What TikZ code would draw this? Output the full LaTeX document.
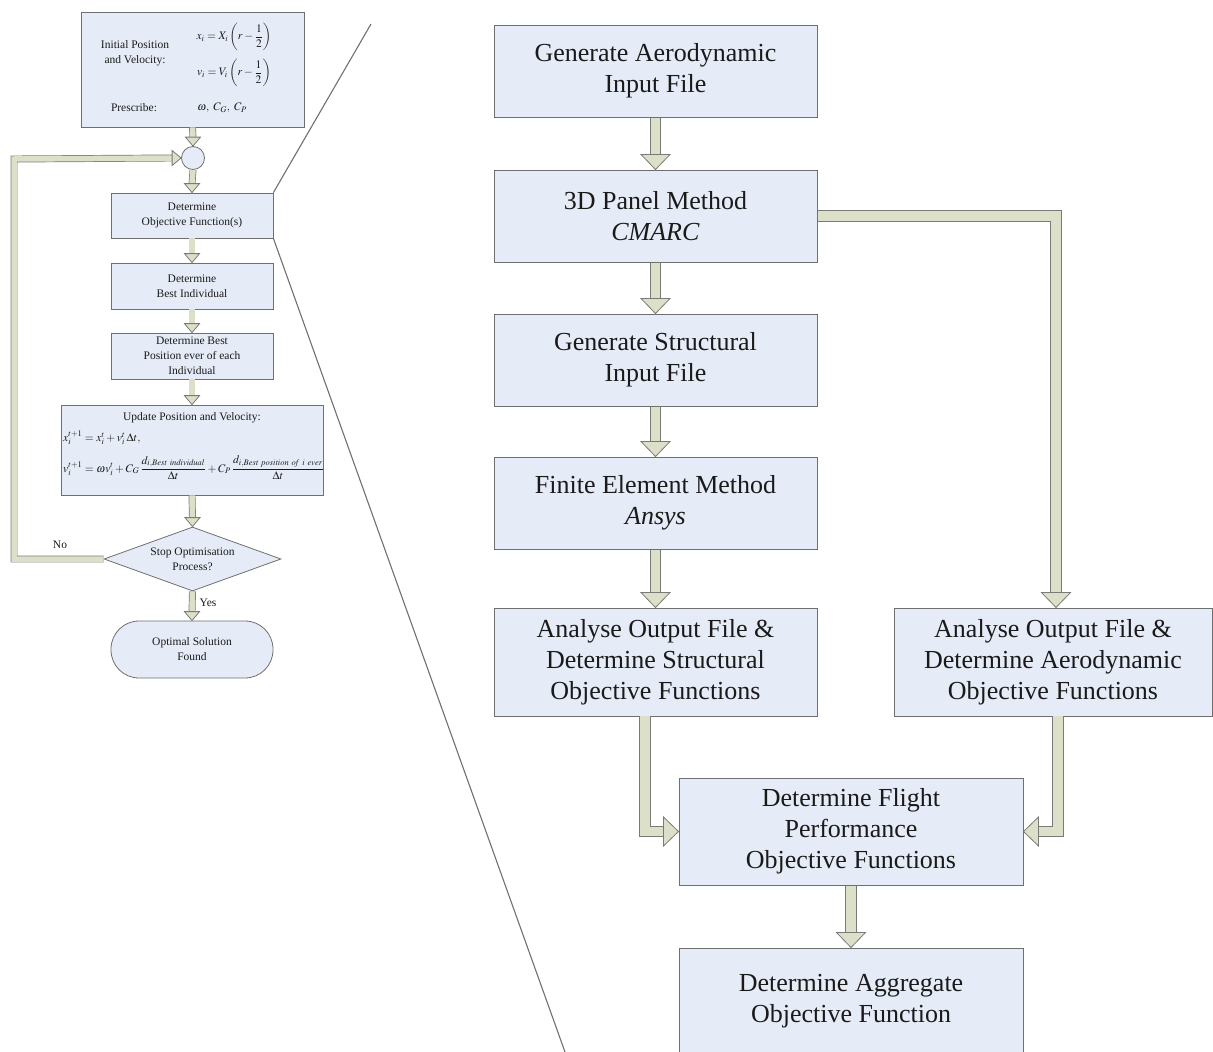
\documentclass[tikz,border=0pt]{standalone}
\usepackage{mathptmx}
\usepackage{fontspec}
\setmainfont{Liberation Serif}
\usetikzlibrary{shapes.geometric,calc}

\definecolor{boxfill}{HTML}{E6ECF7}
\definecolor{boxline}{HTML}{6F6F6F}
\definecolor{arrfill}{HTML}{DDE0C8}
\definecolor{arrline}{HTML}{7A7A7A}
\definecolor{txt}{HTML}{1A1A1A}
\definecolor{zoomgray}{HTML}{707070}

\newcommand\bigfont{\fontsize{26}{31}\selectfont}
\newcommand\smallfont{\fontsize{11.5}{15}\selectfont}
\newcommand\dfr[2]{{\displaystyle\frac{#1}{#2}}}

% arrow heads: #1 tip coordinate, #2 half width, #3 length
\newcommand\tipDown[3]{\filldraw[tipst] (#1) -- ($(#1)+(-#2,#3)$) -- ($(#1)+(#2,#3)$) -- cycle;}
\newcommand\tipRight[3]{\filldraw[tipst] (#1) -- ($(#1)+(-#3,#2)$) -- ($(#1)+(-#3,-#2)$) -- cycle;}
\newcommand\tipLeft[3]{\filldraw[tipst] (#1) -- ($(#1)+(#3,#2)$) -- ($(#1)+(#3,-#2)$) -- cycle;}

\tikzset{
  x=1pt, y=1pt,
  bigbox/.style={draw=boxline, fill=boxfill, line width=1pt, align=center,
    font=\bigfont, text=txt, inner sep=0pt, minimum width=323pt, minimum height=92pt},
  smallbox/.style={draw=boxline, fill=boxfill, line width=0.8pt, align=center,
    font=\smallfont, text=txt, inner sep=0pt, minimum width=162pt, minimum height=46pt},
  lbl/.style={font=\smallfont, text=txt, inner sep=0pt, align=center},
  bigshaft/.style={draw=arrline, line width=0.8pt, double=arrfill, double distance=9.5pt, line join=miter},
  smallshaft/.style={draw=arrline, line width=0.7pt, double=arrfill, double distance=5.5pt, line join=miter},
  tipst/.style={draw=arrline, fill=arrfill, line width=0.8pt, line join=miter},
  zoomline/.style={draw=zoomgray, line width=1.1pt},
}

\begin{document}
\begin{tikzpicture}
\useasboundingbox (0,0) rectangle (1213,-1052);
\clip (0,0) rectangle (1213,-1052);

% ---------------- main process chain ----------------
\node[bigbox] (b1) at (655.5,-71) {Generate Aerodynamic\\Input File};
\node[bigbox] (b2) at (655.5,-216) {3D Panel Method\\\textit{CMARC}};
\node[bigbox] (b3) at (655.5,-360) {Generate Structural\\Input File};
\node[bigbox] (b4) at (655.5,-503) {Finite Element Method\\\textit{Ansys}};
\node[bigbox, minimum height=108pt] (b5) at (655.5,-662) {Analyse Output File \&\\Determine Structural\\Objective Functions};
\node[bigbox, minimum height=108pt, minimum width=318pt] (b6) at (1053,-662) {Analyse Output File \&\\Determine Aerodynamic\\Objective Functions};
\node[bigbox, minimum height=107pt, minimum width=344pt] (b7) at (851,-831.5) {Determine Flight\\Performance\\Objective Functions};
\node[bigbox, minimum height=107pt, minimum width=344pt] (b8) at (851,-1001.5) {Determine Aggregate\\Objective Function};

% straight links
\foreach \a/\b in {b1/b2, b2/b3, b3/b4, b4/b5, b7/b8}{
  \draw[bigshaft] (\a.south) -- ($(\b.north)+(0,14.5)$);
  \tipDown{\b.north}{14.5}{15}
}

% aerodynamic branch
\coordinate (t6) at ($(b6.north)+(3,0)$);
\draw[bigshaft] (b2.east) -| ($(t6)+(0,14.5)$);
\tipDown{t6}{14.5}{15}

% merging into flight performance
\coordinate (s5) at (645,-716);
\coordinate (s6) at (1058,-716);
\draw[bigshaft] (s5) |- ($(b7.west)+(-14.5,0)$);
\tipRight{b7.west}{14.5}{15}
\draw[bigshaft] (s6) |- ($(b7.east)+(14.5,0)$);
\tipLeft{b7.east}{14.5}{15}

% ---------------- optimiser loop ----------------
\node[smallbox, minimum width=223pt, minimum height=115pt] (l1) at (192.5,-69.5) {};
\node[lbl] (l1a) at (135,-53) {Initial Position\\and Velocity:};
\node[lbl] (l1b) at (234,-37) {$x_i = X_i\left(r-\dfr{1}{2}\right)$};
\node[lbl] (l1c) at (234,-73) {$v_i = V_i\left(r-\dfr{1}{2}\right)$};
\node[lbl] (l1d) at (134,-108) {Prescribe:};
\node[lbl] (l1e) at (222,-108) {$\omega,\ C_G,\ C_P$};

\node[circle, draw=boxline, fill=boxfill, line width=0.8pt, minimum size=23pt, inner sep=0pt] (circ) at (193,-158) {};
\node[smallbox, minimum height=45pt] (l2) at (192,-215.5) {Determine\\Objective Function(s)};
\node[smallbox] (l3) at (192,-286) {Determine\\Best Individual};
\node[smallbox] (l4) at (192,-356) {Determine Best\\Position ever of each\\Individual};
\node[smallbox, minimum width=262pt, minimum height=90pt] (l5) at (192,-450) {};
\node[lbl] (l5a) at (192,-418) {Update Position and Velocity:};
\node[lbl, anchor=west] (l5b) at (63,-438) {$x_i^{t+1} = x_i^t + v_i^t\,\Delta t,$};
\node[lbl, anchor=west] (l5c) at (63,-468) {$v_i^{t+1} = \omega v_i^t + C_G\,\dfr{d_{i,\mathit{Best\ individual}}}{\Delta t} + C_P\,\dfr{d_{i,\mathit{Best\ position\ of\ i\ ever}}}{\Delta t}$};
\node[diamond, draw=boxline, fill=boxfill, line width=0.8pt, minimum width=177pt, minimum height=64pt, aspect=2.77, inner sep=0pt, align=center, font=\smallfont, text=txt] (dm) at (192.5,-559) {Stop Optimisation\\Process?};
\node[smallbox, rounded corners=28pt, minimum height=57pt] (l6) at (192,-649.5) {Optimal Solution\\Found};

\foreach \a/\b in {l1/circ, circ/l2, l2/l3, l3/l4, l4/l5, l5/dm, dm/l6}{
  \draw[smallshaft] (\a.south) -- ($(\b.north)+(0,8.5)$);
  \tipDown{\b.north}{7.5}{9}
}

% return path when the stop test fails
\coordinate (lp) at (14,-159);
\draw[smallshaft] (dm.west) -| (lp) -- ($(circ.west)+(-8.5,0)$);
\tipRight{circ.west}{7.5}{9}

\node[lbl] (no) at (60,-545) {No};
\node[lbl] (yes) at (208,-603) {Yes};

% ---------------- zoom guides ----------------
\coordinate (zt) at (371,-24);
\coordinate (zb) at (565,-1052);
\draw[zoomline] (l2.north east) -- (zt);
\draw[zoomline] (l2.south east) -- (zb);
\end{tikzpicture}
\end{document}
